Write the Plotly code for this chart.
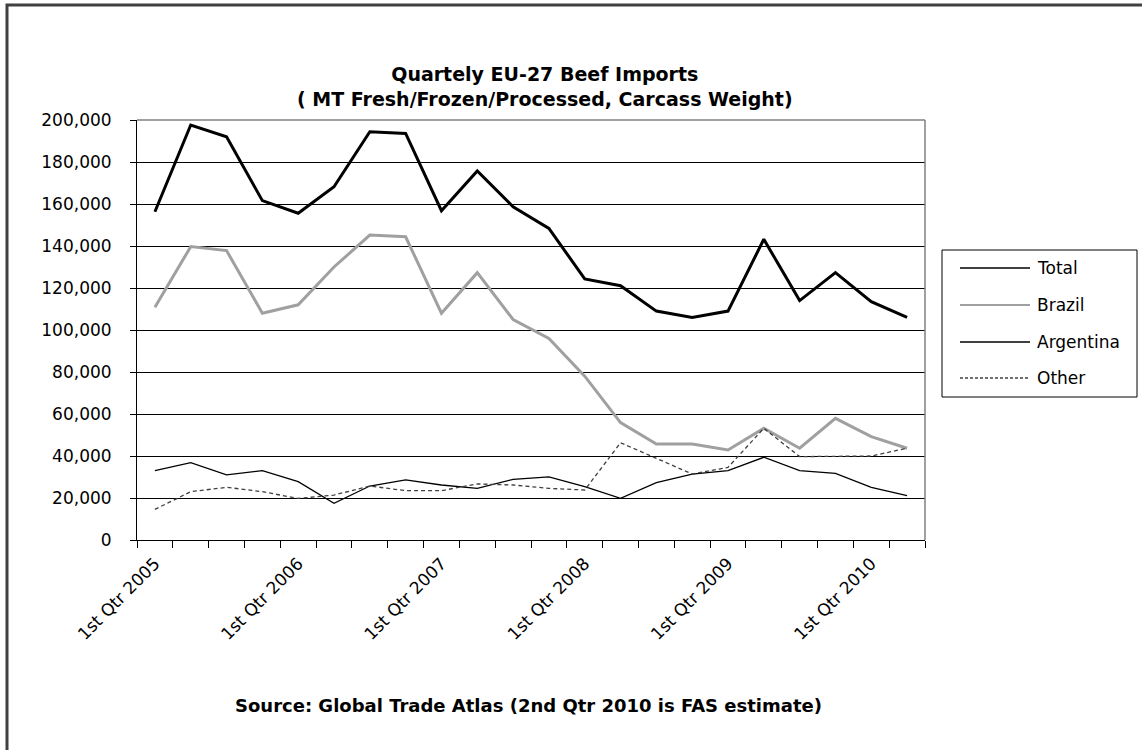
import plotly.graph_objects as go

quarters = []
for yr in range(2005, 2011):
    for q in ["1st", "2nd", "3rd", "4th"]:
        quarters.append(f"{q} Qtr {yr}")
quarters = quarters[:22]

total = [156300, 197600, 192000, 161600, 155600, 168200, 194400, 193600, 156800, 175700, 158700,
         148400, 124300, 121100, 109000, 106000, 109000, 143200, 114000, 127300, 113500, 106000]
brazil = [110800, 139700, 137800, 108000, 112000, 130000, 145200, 144400, 108000, 127300, 105000,
          96000, 78000, 55900, 45700, 45700, 42900, 53200, 43700, 57900, 49200, 43700]
argentina = [33000, 36800, 31000, 33000, 27800, 17500, 25700, 28600, 26200, 24600, 28900,
             30100, 25400, 19800, 27300, 31400, 33000, 39400, 33000, 31700, 25100, 21100]
other = [14600, 23000, 25100, 23000, 19800, 21400, 25700, 23500, 23500, 26700, 26200,
         24600, 23800, 46300, 38900, 31400, 34600, 53200, 39700, 39700, 40000, 43700]

series_names = ["Total", "Brazil", "Argentina", "Other"]
y_ticks = list(range(0, 200001, 20000))

W_FIG, H_FIG = 1142, 750
L, R, T, B = 137, 925, 120, 540
PW, PH = R - L, B - T

def px(x):
    return (x - L) / PW

def py(y):
    return (B - y) / PH

FONT = "DejaVu Sans, Arial, sans-serif"
xs = list(range(len(quarters)))
styles = {
    "Total": dict(color="#000000", width=3),
    "Brazil": dict(color="#a0a0a0", width=3),
    "Argentina": dict(color="#000000", width=1.3),
    "Other": dict(color="#404040", width=1.3, dash="4px,3px"),
}
data = {"Total": total, "Brazil": brazil, "Argentina": argentina, "Other": other}

fig = go.Figure()
for name in series_names:
    fig.add_trace(go.Scatter(x=xs, y=data[name], mode="lines", name=name,
                             line=styles[name], showlegend=False,
                             customdata=quarters,
                             hovertemplate="%{customdata}<br>%{y:,}<extra>" + name + "</extra>"))

label_idx = [i for i, q in enumerate(quarters) if q.startswith("1st")]

fig.update_layout(
    width=W_FIG, height=H_FIG,
    margin=dict(l=L, r=W_FIG - R, t=T, b=H_FIG - B),
    paper_bgcolor="white", plot_bgcolor="white",
    showlegend=False,
    font=dict(family=FONT, size=15, color="#000"),
)
fig.update_xaxes(
    range=[-0.5, len(quarters) - 0.5],
    tickmode="array", tickvals=label_idx, ticktext=[quarters[i] for i in label_idx],
    ticks="", tickangle=-45, showgrid=False, zeroline=False,
    showline=True, linecolor="#000", linewidth=1, ticklabelstandoff=6,
    tickfont=dict(family=FONT, size=17, color="#000"),
    minor=dict(tickmode="linear", tick0=-0.5, dtick=1, ticks="outside", ticklen=7,
               tickcolor="#000", tickwidth=1, showgrid=False),
)
fig.update_yaxes(
    range=[0, 200000], tickmode="array", tickvals=y_ticks, tickformat=",d",
    ticks="outside", ticklen=6, tickcolor="#000",
    showgrid=True, gridcolor="#000", gridwidth=1, zeroline=False,
    showline=True, linecolor="#000", linewidth=1, ticklabelstandoff=15,
    tickfont=dict(family=FONT, size=17, color="#000"),
)

shapes = []
shapes.append(dict(type="line", xref="paper", yref="paper", x0=0, x1=1, y0=1, y1=1,
                   line=dict(color="#808080", width=1.5)))
shapes.append(dict(type="line", xref="paper", yref="paper", x0=1, x1=1, y0=0, y1=1,
                   line=dict(color="#808080", width=1.5)))
shapes.append(dict(type="rect", xref="paper", yref="paper", x0=px(7), x1=px(1160),
                   y0=py(770), y1=py(5), line=dict(color="#404040", width=3),
                   fillcolor="rgba(0,0,0,0)"))
shapes.append(dict(type="rect", xref="paper", yref="paper", x0=px(942), x1=px(1137),
                   y0=py(397), y1=py(250), line=dict(color="#000", width=1),
                   fillcolor="white", layer="below"))

annotations = []
leg_y = [268, 305, 342, 378]
for name, yy in zip(series_names, leg_y):
    st = styles[name]
    shapes.append(dict(type="line", xref="paper", yref="paper", x0=px(960), x1=px(1030),
                       y0=py(yy), y1=py(yy),
                       line=dict(color=st["color"], width=1.5 if name != "Brazil" else 2,
                                 dash="3px,2px" if name == "Other" else "solid")))
    annotations.append(dict(xref="paper", yref="paper", x=px(1035), y=py(yy), text=name,
                            showarrow=False, xanchor="left", yanchor="middle",
                            font=dict(family=FONT, size=17, color="#000")))

annotations.append(dict(xref="paper", yref="paper", x=px(545), y=py(86),
                        text="Quartely EU-27 Beef Imports<br>( MT Fresh/Frozen/Processed, Carcass Weight)",
                        showarrow=False, xanchor="center", yanchor="middle",
                        font=dict(family=FONT, size=19, color="#000", weight="bold")))
annotations.append(dict(xref="paper", yref="paper", x=px(528), y=py(705),
                        text="Source: Global Trade Atlas (2nd Qtr 2010 is FAS estimate)",
                        showarrow=False, xanchor="center", yanchor="middle",
                        font=dict(family=FONT, size=18, color="#000", weight="bold")))

fig.update_layout(shapes=shapes, annotations=annotations)
fig.write_html("out.html")
